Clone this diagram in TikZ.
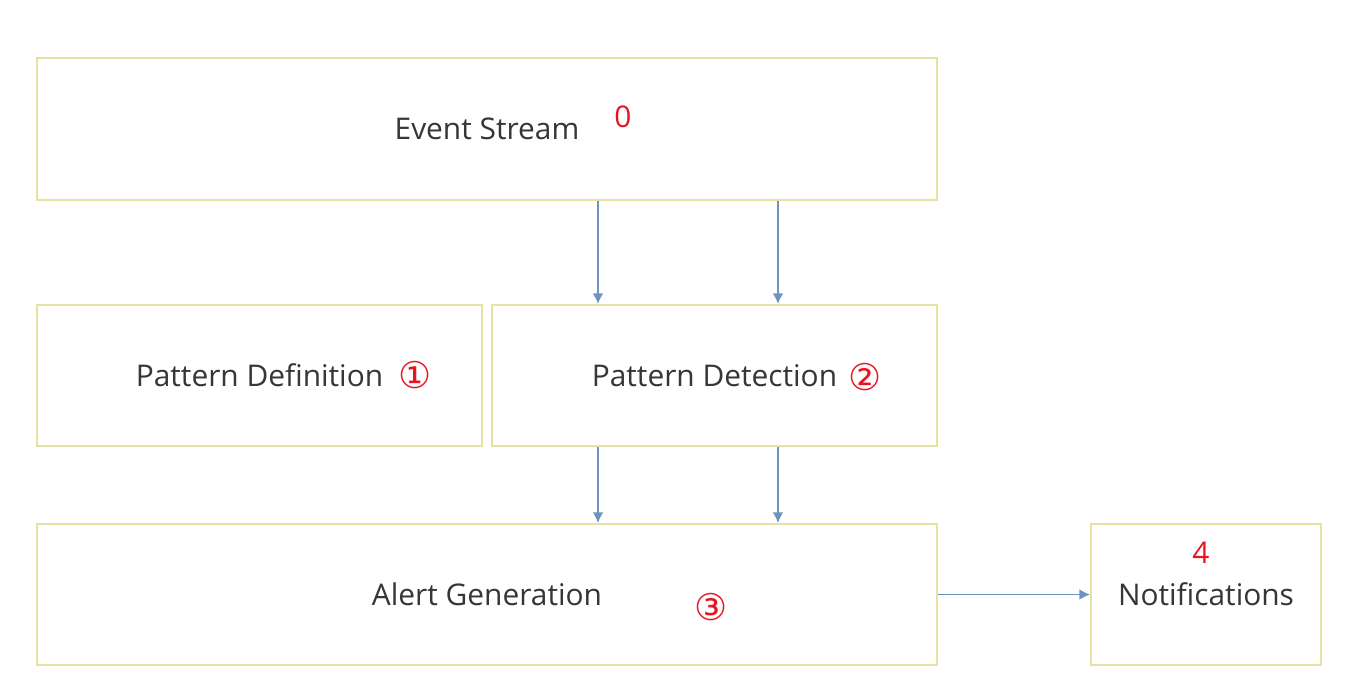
\documentclass[tikz,border=0pt]{standalone}
\usepackage{fontspec}
\setmainfont{Open Sans}
\newfontfamily\circfont{DejaVu Sans}
\usetikzlibrary{arrows.meta}
\definecolor{boxline}{HTML}{E6E2A2}
\definecolor{flowblue}{HTML}{6F93BF}
\definecolor{txtgray}{HTML}{363636}
\definecolor{markred}{HTML}{E8141E}

\tikzset{
  stage/.style={draw=boxline,line width=1.2pt,fill=white,text=txtgray,font=\fontsize{17}{20}\selectfont},
  flow/.style={draw=flowblue,line width=0.8pt,-{Latex[length=6pt,width=6pt]}},
  numlabel/.style={text=markred,font=\fontsize{17}{20}\selectfont},
  circlabel/.style={text=markred,font=\circfont\fontsize{21}{24}\selectfont}
}

\begin{document}
\begin{tikzpicture}
        \useasboundingbox (0,0) rectangle (27.04,-13.68) ;
        % stages
        \node[stage,minimum width=18cm,minimum height=2.84cm] (stream) at (9.74,-2.58) {Event Stream} ;
        \node[stage,minimum width=8.9cm,minimum height=2.82cm] (define) at (5.19,-7.51) {Pattern Definition} ;
        \node[stage,minimum width=8.9cm,minimum height=2.82cm] (detect) at (14.29,-7.51) {Pattern Detection} ;
        \node[stage,minimum width=18cm,minimum height=2.82cm] (alert) at (9.74,-11.89) {Alert Generation} ;
        \node[stage,minimum width=4.6cm,minimum height=2.82cm] (notify) at (24.12,-11.89) {Notifications} ;
        % numbers
        \node[numlabel] (n0) at (12.46,-2.34) {0} ;
        \node[circlabel] (n1) at (8.30,-7.50) {①} ;
        \node[circlabel] (n2) at (17.30,-7.54) {②} ;
        \node[circlabel] (n3) at (14.22,-12.14) {③} ;
        \node[numlabel] (n4) at (24.02,-11.06) {4} ;
        % flows
        \coordinate (left) at (11.96,0) ;
        \coordinate (right) at (15.56,0) ;
        \draw[flow] (stream.south -| left) -- (detect.north -| left) ;
        \draw[flow] (stream.south -| right) -- (detect.north -| right) ;
        \draw[flow] (detect.south -| left) -- (alert.north -| left) ;
        \draw[flow] (detect.south -| right) -- (alert.north -| right) ;
        \draw[flow] (alert.east) -- (notify.west) ;
      \end{tikzpicture}
\end{document}
